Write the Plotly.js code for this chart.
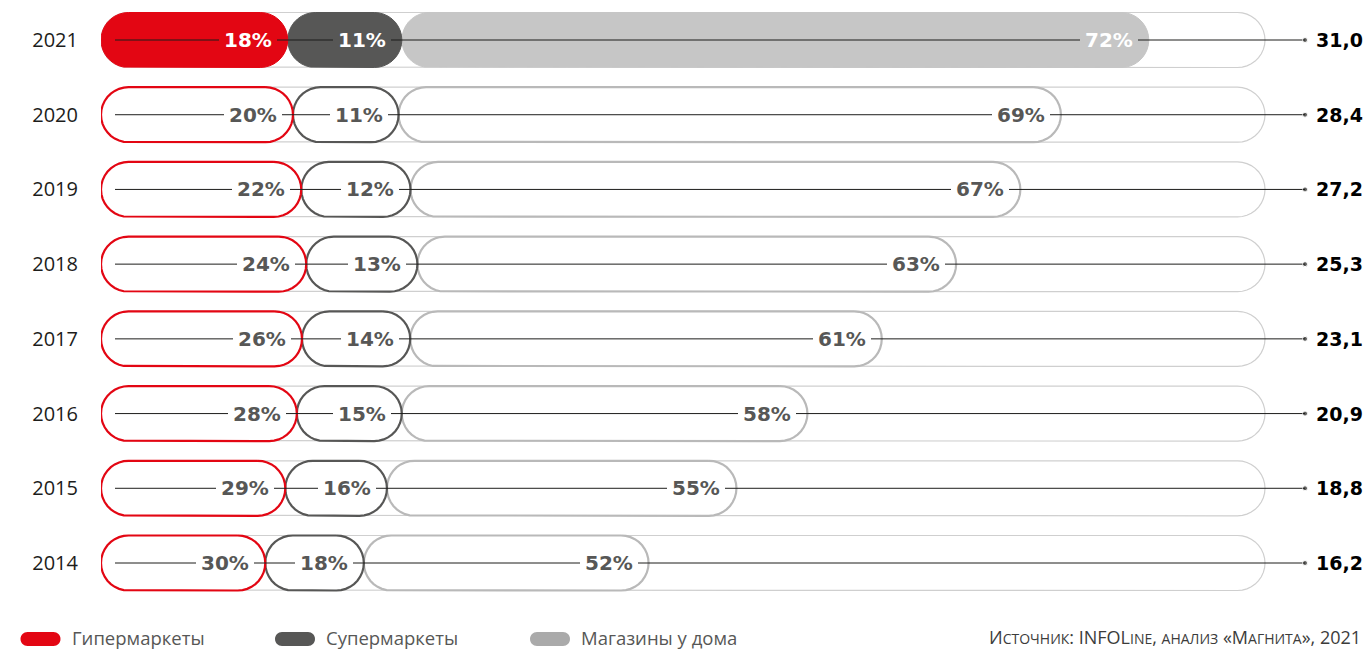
<!DOCTYPE html>
<html>
<head>
<meta charset="utf-8">
<script src="https://cdn.plot.ly/plotly-3.0.1.min.js"></script>
<style>
  html, body { margin: 0; padding: 0; background: #ffffff; }
  #chart { width: 1369px; height: 650px; }
</style>
</head>
<body>
<div id="chart"></div>
<script>
// ---------- DATA ----------
var years = [2014, 2015, 2016, 2017, 2018, 2019, 2020, 2021];
var totals = [16.2, 18.8, 20.9, 23.1, 25.3, 27.2, 28.4, 31.0];
var hyperShare = [30, 29, 28, 26, 24, 22, 20, 18];
var superShare = [18, 16, 15, 14, 13, 12, 11, 11];
var convShare = [52, 55, 58, 61, 63, 67, 69, 72];
var seriesNames = ['Гипермаркеты', 'Супермаркеты', 'Магазины у дома'];
var highlightYear = 2021;
var sourceText = 'И<span style="font-size:14px">СТОЧНИК</span>: INFOL<span style="font-size:14px">INE</span>, <span style="font-size:14px">АНАЛИЗ</span> «М<span style="font-size:14px">АГНИТА</span>», 2021';

// ---------- LAYOUT CONSTANTS ----------
var W = 1369, H = 650;
var ML = 101, MR = 0, MT = 0, MB = 50;
var plotW = W - ML - MR, plotH = H - MT - MB;
var pxPerX = 33.8;
var xMax = plotW / pxPerX;
var yTop = 2021.5354, yBot = 2013.5048;
var pxPerY = plotH / (yTop - yBot);
var pillHalfPx = 27.5;
var rx = pillHalfPx / pxPerX, ry = pillHalfPx / pxPerY;
var trackEnd = (1265 - ML) / pxPerX;   // right end of background track
var lineStart = 14 / pxPerX;
var lineEnd = (1305 - ML) / pxPerX;

var colors = {
  hyper: '#e30613', sup: '#575756', conv: '#b9b9b9', convFill: '#c6c6c6',
  track: '#cfcfcf', line: '#1d1d1b', label: '#575756'
};

function pill(x0, x1, yc) {
  var xs = [], ys = [], n = 18, i, t;
  for (i = 0; i <= n; i++) { // right arc, top -> bottom
    t = Math.PI / 2 - Math.PI * i / n;
    xs.push(x1 - rx + rx * Math.cos(t)); ys.push(yc + ry * Math.sin(t));
  }
  for (i = 0; i <= n; i++) { // left arc, bottom -> top
    t = -Math.PI / 2 - Math.PI * i / n;
    xs.push(x0 + rx + rx * Math.cos(t)); ys.push(yc + ry * Math.sin(t));
  }
  xs.push(xs[0]); ys.push(ys[0]);
  return {x: xs, y: ys};
}

function pillTrace(segs, lineColor, fillColor, lw) {
  var X = [], Y = [];
  segs.forEach(function (s) {
    var p = pill(s[0], s[1], s[2]);
    X = X.concat(p.x, [null]); Y = Y.concat(p.y, [null]);
  });
  return {
    type: 'scatter', mode: 'lines', x: X, y: Y, fill: 'toself',
    fillcolor: fillColor, line: {color: lineColor, width: lw},
    hoverinfo: 'skip', showlegend: false
  };
}

// segment bounds
var bounds = years.map(function (yr, i) {
  var sum = hyperShare[i] + superShare[i] + convShare[i];
  var t = totals[i];
  var h = t * hyperShare[i] / sum;
  var s = t * (hyperShare[i] + superShare[i]) / sum;
  return {y: yr, a: 0, h: h, s: s, t: t};
});

var traces = [];
// background tracks
traces.push(pillTrace(bounds.map(function (b) { return [0, trackEnd, b.y]; }), colors.track, '#ffffff', 1.2));

var norm = bounds.filter(function (b) { return b.y !== highlightYear; });
var hl = bounds.filter(function (b) { return b.y === highlightYear; });

traces.push(pillTrace(norm.map(function (b) { return [b.s, b.t, b.y]; }), colors.conv, '#ffffff', 2.2));
traces.push(pillTrace(norm.map(function (b) { return [b.h, b.s, b.y]; }), colors.sup, '#ffffff', 2.2));
traces.push(pillTrace(norm.map(function (b) { return [0, b.h, b.y]; }), colors.hyper, '#ffffff', 2.2));
traces.push(pillTrace(hl.map(function (b) { return [b.s, b.t, b.y]; }), colors.convFill, colors.convFill, 1));
traces.push(pillTrace(hl.map(function (b) { return [b.h, b.s, b.y]; }), colors.sup, colors.sup, 1));
traces.push(pillTrace(hl.map(function (b) { return [0, b.h, b.y]; }), colors.hyper, colors.hyper, 1));

// connector lines with end dots
var LX = [], LY = [], LS = [];
bounds.forEach(function (b) {
  LX.push(lineStart, lineEnd, null); LY.push(b.y, b.y, null); LS.push(0, 5, 0);
});
traces.push({
  type: 'scatter', mode: 'lines+markers', x: LX, y: LY,
  line: {color: colors.line, width: 1},
  marker: {size: LS, color: colors.line},
  hoverinfo: 'skip', showlegend: false
});

// ---------- ANNOTATIONS ----------
var ann = [];
var labelFont = function (c) { return {family: 'DejaVu Sans', size: 20, color: c, weight: 'bold'}; };
bounds.forEach(function (b, i) {
  var isH = b.y === highlightYear;
  var segs = [
    [b.h, hyperShare[i], isH ? colors.hyper : '#ffffff'],
    [b.s, superShare[i], isH ? colors.sup : '#ffffff'],
    [b.t, convShare[i], isH ? colors.convFill : '#ffffff']
  ];
  segs.forEach(function (sg) {
    ann.push({
      x: sg[0], y: b.y, xref: 'x', yref: 'y', xanchor: 'right', yanchor: 'middle',
      xshift: -11, text: sg[1] + '%', showarrow: false,
      font: labelFont(isH ? '#ffffff' : colors.label),
      bgcolor: sg[2], borderpad: 5, borderwidth: 0
    });
  });
  ann.push({
    x: lineEnd, y: b.y, xref: 'x', yref: 'y', xanchor: 'left', yanchor: 'middle',
    xshift: 9, text: b.t.toFixed(1).replace('.', ','), showarrow: false,
    font: {family: 'DejaVu Sans', size: 19, color: '#000000', weight: 'bold'}
  });
});

function pxX(px) { return (px - ML) / plotW; }
function pxY(py) { return (plotH - (py - MT)) / plotH; }

var legendPillX = [40.5, 295, 550];
var legendTextX = [71, 325, 580];
var legendColors = [colors.hyper, colors.sup, '#aaaaaa'];
var legendY = 639, legendTextY = 637;
var shapes = [];
var pillPath = 'M -13,7 H 13 C 16.9,7 20,3.9 20,0 C 20,-3.9 16.9,-7 13,-7 H -13 C -16.9,-7 -20,-3.9 -20,0 C -20,3.9 -16.9,7 -13,7 Z';
seriesNames.forEach(function (nm, k) {
  shapes.push({
    type: 'path', xref: 'paper', yref: 'paper', xsizemode: 'pixel', ysizemode: 'pixel',
    xanchor: pxX(legendPillX[k]), yanchor: pxY(legendY), path: pillPath,
    fillcolor: legendColors[k], line: {width: 0}
  });
  ann.push({
    x: pxX(legendTextX[k]), y: pxY(legendTextY), xref: 'paper', yref: 'paper',
    xanchor: 'left', yanchor: 'middle', showarrow: false, text: nm, borderpad: 0,
    font: {family: 'Open Sans', size: 18.5, color: '#575756'}
  });
});
ann.push({
  x: pxX(1362), y: pxY(legendTextY), xref: 'paper', yref: 'paper',
  xanchor: 'right', yanchor: 'middle', showarrow: false, text: sourceText, borderpad: 0,
  font: {family: 'Open Sans', size: 18, color: '#3c3c3b'}
});

var layout = {
  width: W, height: H,
  margin: {l: ML, r: MR, t: MT, b: MB, pad: 0},
  paper_bgcolor: '#ffffff', plot_bgcolor: '#ffffff',
  showlegend: false,
  xaxis: {range: [0, xMax], visible: false, fixedrange: true},
  yaxis: {
    range: [yBot, yTop], tickvals: years, ticktext: years.map(String),
    showgrid: false, zeroline: false, showline: false,
    ticks: 'outside', ticklen: 18, tickcolor: 'rgba(0,0,0,0)',
    tickfont: {family: 'Open Sans', size: 20, color: '#1d1d1b'}, fixedrange: true
  },
  annotations: ann,
  shapes: shapes
};

Plotly.newPlot('chart', traces, layout, {displayModeBar: false, staticPlot: true});
</script>
</body>
</html>
